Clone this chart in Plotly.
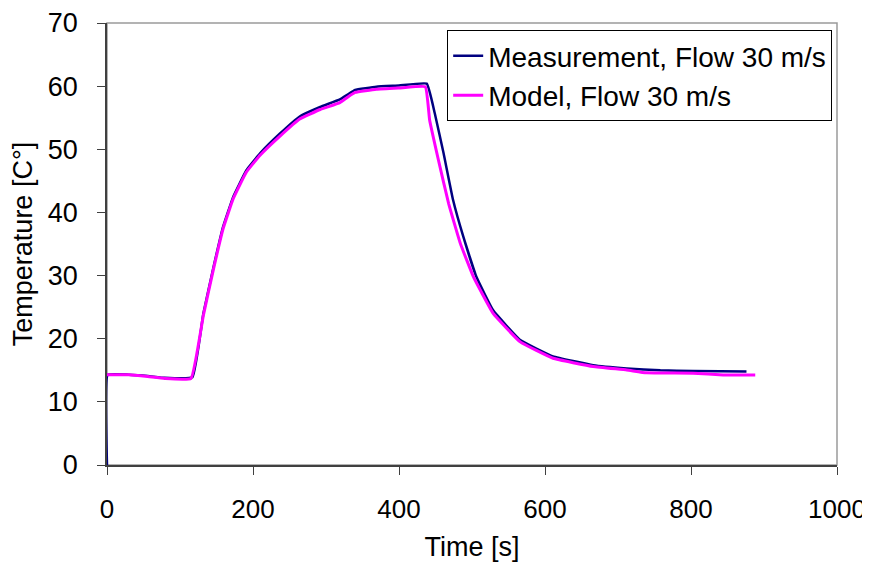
import plotly.graph_objects as go

# Measurement, Flow 30 m/s
meas_t = [0, 1, 30, 56, 79, 117, 132, 146, 159, 173, 191, 210, 237, 264, 292, 319, 330, 340, 369, 400, 438,
          449, 461, 474, 488, 506, 529, 566, 611, 666, 712, 758, 803, 876]
meas_y = [0, 14.3, 14.3, 14.1, 13.8, 13.9, 24.0, 31.4, 37.7, 42.5, 46.7, 49.4, 52.5, 55.2, 56.7, 57.9, 58.7, 59.4, 59.9, 60.1, 60.4,
          55.7, 49.4, 42.0, 36.2, 29.8, 24.5, 19.8, 17.2, 15.8, 15.3, 15.0, 14.9, 14.8]

# Model, Flow 30 m/s
model_t = [0, 30, 56, 79, 115, 132, 146, 159, 173, 191, 210, 237, 264, 292, 319, 330, 340, 369, 400, 436,
           442, 454, 468, 484, 502, 529, 566, 611, 666, 712, 739, 803, 844, 888]
model_y = [14.3, 14.3, 14.0, 13.7, 13.7, 23.7, 31.1, 37.4, 42.2, 46.4, 49.1, 52.1, 54.8, 56.3, 57.4, 58.3, 59.0, 59.5, 59.7, 59.9,
           54.6, 48.3, 41.4, 35.1, 29.8, 24.0, 19.5, 16.9, 15.6, 15.05, 14.6, 14.55, 14.25, 14.25]

x_ticks = [0, 200, 400, 600, 800, 1000]
y_ticks = [0, 10, 20, 30, 40, 50, 60, 70]

FONT = "Liberation Sans, Arial, sans-serif"

fig = go.Figure()
fig.add_trace(go.Scatter(x=meas_t, y=meas_y, mode="lines", name="Measurement, Flow 30 m/s",
                         line=dict(color="#000080", width=2.5, shape="spline", smoothing=0.3)))
fig.add_trace(go.Scatter(x=model_t, y=model_y, mode="lines", name="Model, Flow 30 m/s",
                         line=dict(color="#FF00FF", width=3, shape="spline", smoothing=0.3)))

fig.add_shape(type="rect", xref="paper", yref="paper", x0=0, y0=0, x1=1, y1=1,
              line=dict(color="#9a9a9a", width=1.5), layer="below")

fig.update_layout(
    width=862, height=565,
    margin=dict(l=99, r=33, t=15, b=108, autoexpand=False),
    paper_bgcolor="white", plot_bgcolor="white",
    font=dict(family=FONT, size=27, color="black"),
    showlegend=True,
    legend=dict(x=0.466, y=0.984, xanchor="left", yanchor="top",
                bordercolor="black", borderwidth=1, bgcolor="white",
                font=dict(size=28), tracegroupgap=0, itemwidth=30),
    xaxis=dict(range=[0, 1000], tickvals=x_ticks, ticks="outside", ticklen=8, tickcolor="#404040",
               showline=True, linecolor="#404040", linewidth=1.5, showgrid=False, zeroline=False,
               automargin=False, ticklabelstandoff=12, ticklabeloverflow="allow",
               tickfont=dict(size=26),
               title=dict(text="Time [s]", font=dict(size=27), standoff=14)),
    yaxis=dict(range=[0, 70], tickvals=y_ticks, ticks="outside", ticklen=8, tickcolor="#404040",
               showline=True, linecolor="#404040", linewidth=1.5, showgrid=False, zeroline=False,
               automargin=False, ticklabelstandoff=14, ticklabeloverflow="allow",
               title=dict(text="Temperature [C°]", font=dict(size=27), standoff=14)),
)

fig.write_html("out.html")
